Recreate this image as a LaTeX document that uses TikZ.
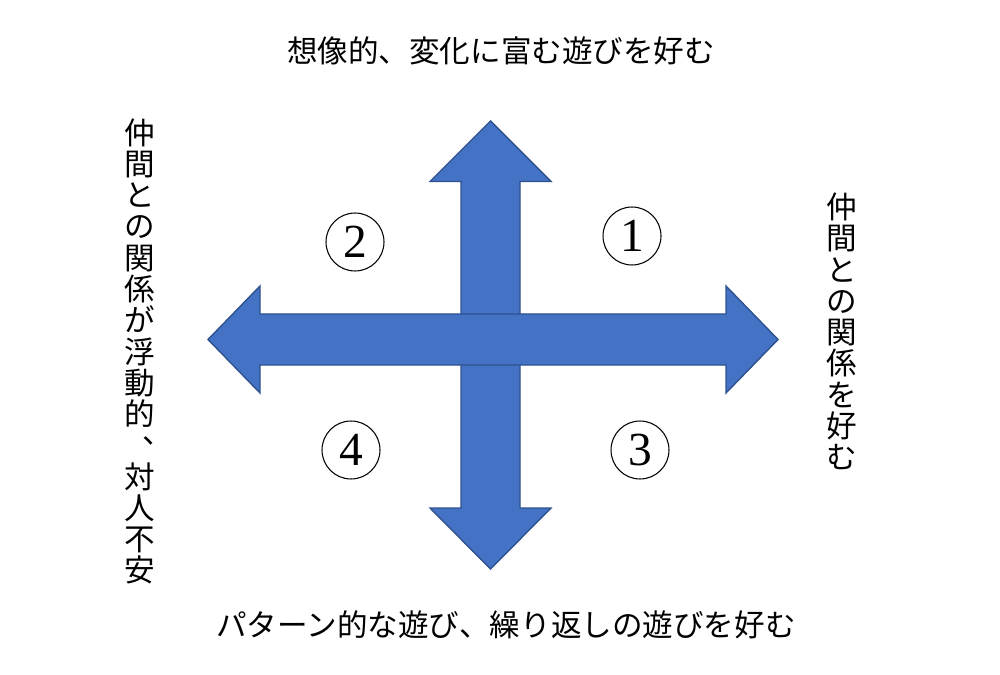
\documentclass[tikz,border=0pt]{standalone}
\usepackage{fontspec}
\setmainfont{Liberation Serif}
\newfontfamily\jp{Noto Sans CJK JP}
\definecolor{crossblue}{RGB}{68,114,196}
\definecolor{crossedge}{RGB}{47,82,143}
% comma set the way it sits in vertical writing
\newcommand{\vcomma}{\makebox[1em][l]{\hspace{0.58em}\raisebox{0.45em}{、}}}

\begin{document}
\begin{tikzpicture}[
  x=0.02cm, y=-0.02cm,
  crossarrow/.style={fill=crossblue, draw=crossedge, line width=0.8pt, line join=miter},
  jtext/.style={font={\jp\fontsize{17.4}{17.4}\selectfont}, inner sep=0pt},
  vtext/.style={font={\jp\fontsize{17.4}{17.8}\selectfont}, inner sep=0pt, align=center},
  quadrant/.style={circle, draw, line width=0.6pt, minimum size=1.16cm, inner sep=0pt, font=\fontsize{27}{27}\selectfont}
]
  \useasboundingbox (0,0) rectangle (1000,675);

  % vertical arrow first, horizontal one on top
  \draw[crossarrow] (490.5,121) -- (551,181.5) -- (520,181.5) -- (520,508) -- (551,508)
    -- (490.5,569) -- (430,508) -- (461,508) -- (461,181.5) -- (430,181.5) -- cycle;
  \draw[crossarrow] (208,339.5) -- (260,286) -- (260,314) -- (726,314) -- (726,286)
    -- (778,339.5) -- (726,393) -- (726,365) -- (260,365) -- (260,393) -- cycle;

  \node[quadrant] (q1) at (632,236) {1};
  \node[quadrant] (q2) at (355,242) {2};
  \node[quadrant] (q3) at (640,450) {3};
  \node[quadrant] (q4) at (351,450) {4};

  \node[jtext] (fantasy) at (501,51) {想像的、変化に富む遊びを好む};
  \node[jtext] (pattern) at (506,625) {パターン的な遊び、繰り返しの遊びを好む};
  \node[vtext] (anxious) at (140,351.5) {仲\\間\\と\\の\\関\\係\\が\\浮\\動\\的\\\vcomma\\対\\人\\不\\安};
  \node[vtext] (peers) at (842,331.5) {仲\\間\\と\\の\\関\\係\\を\\好\\む};
\end{tikzpicture}
\end{document}
